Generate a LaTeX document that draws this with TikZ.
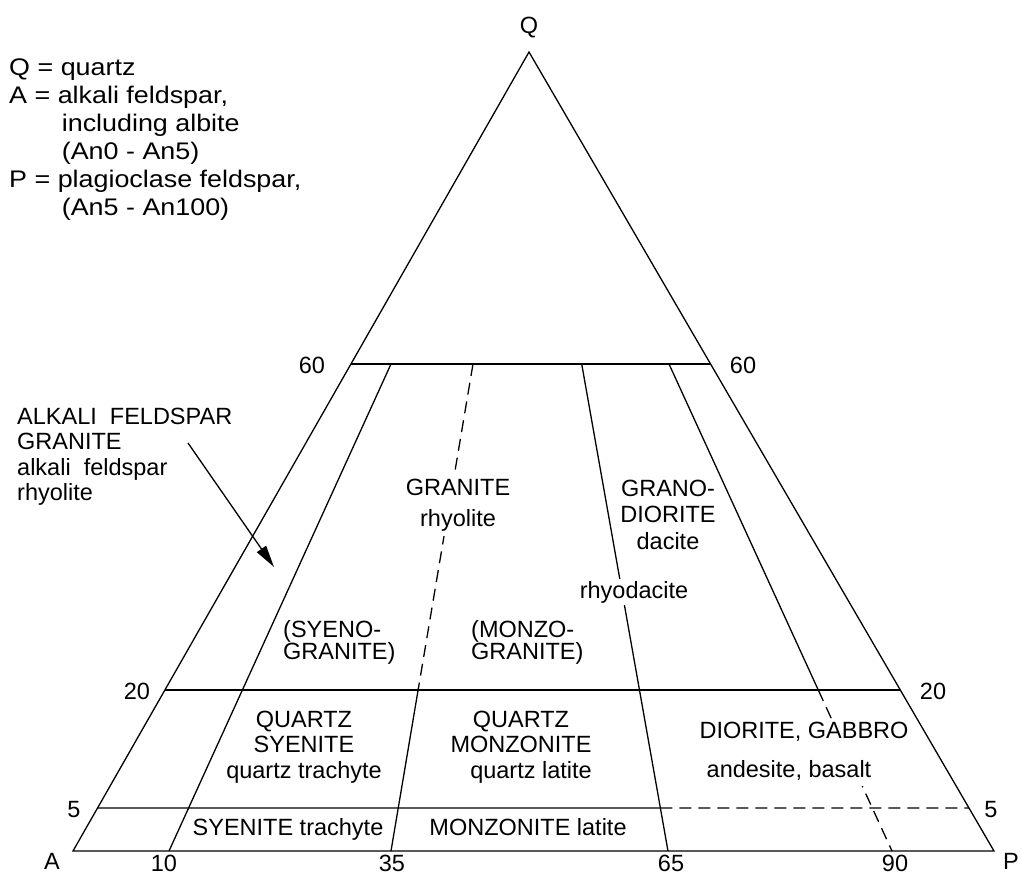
\documentclass[tikz,border=0pt]{standalone}
\usepackage{fontspec}
\setmainfont{Liberation Sans}
\usetikzlibrary{arrows.meta,calc}
\newcommand{\labfont}{\fontsize{23.5}{25.5}\selectfont}
\newcommand{\legfont}{\fontsize{24}{28}\selectfont}
\newcommand{\ctab}[1]{\begin{tabular}[t]{@{}c@{}}#1\end{tabular}}
\newcommand{\ltab}[1]{\begin{tabular}[t]{@{}l@{}}#1\end{tabular}}
\begin{document}
\begin{tikzpicture}[x=1pt,y=-1pt,
  lab/.style={font=\labfont, inner sep=0pt, anchor=base},
  leg/.style={font=\legfont, inner sep=0pt, anchor=base west},
  edge/.style={line width=1.3pt},
  dsh/.style={line width=1.3pt, dash pattern=on 12pt off 7pt},
  whitebg/.style={fill=white, inner sep=2pt}]
\useasboundingbox (0,0) rectangle (1021,876);
% vertices
\coordinate (Q) at (529,52);
\coordinate (A) at (73,851);
\coordinate (P) at (994,851);
\draw[edge, line join=miter] (A) -- (Q) -- (P) -- cycle;
% horizontal lines
\coordinate (L60) at ($(A)!0.6095!(Q)$);
\coordinate (R60) at ($(P)!0.6095!(Q)$);
\coordinate (L20) at ($(A)!0.2015!(Q)$);
\coordinate (R20) at ($(P)!0.2015!(Q)$);
\coordinate (L5) at ($(A)!0.0538!(Q)$);
\coordinate (R5) at ($(P)!0.0538!(Q)$);
\draw[edge] (L60) -- (R60);
\draw[edge] (L20) -- (R20);
% radial lines
\coordinate (T10) at (391,364);
\coordinate (B10) at (169,851);
\coordinate (T35) at (473,364);
\coordinate (B35) at (391,851);
\coordinate (M35) at ($(T35)!0.6694!(B35)$);
\coordinate (T65) at (581.7,364);
\coordinate (B65) at (668,851);
\coordinate (F65) at ($(T65)!0.9117!(B65)$);
\coordinate (T90) at (669,364);
\coordinate (B90) at (892,851);
\coordinate (M90) at ($(T90)!0.6694!(B90)$);
\draw[edge] (T10) -- (B10);
\draw[dsh] (T35) -- (M35);
\draw[edge] (M35) -- (B35);
\draw[edge] (T65) -- (B65);
\draw[edge] (T90) -- (M90);
\draw[dsh] (M90) -- (B90);
\draw[edge] (L5) -- (F65);
\draw[dsh] (F65) -- (R5);
% vertex labels
\node[lab] (Qlab) at (529,33) {Q};
\node[lab] (Alab) at (52,869) {A};
\node[lab, anchor=base west] (Plab) at (1003,869) {P};
% scale numbers
\node[lab] (n60l) at (312,373) {60};
\node[lab] (n60r) at (743,373) {60};
\node[lab] (n20l) at (137,699) {20};
\node[lab] (n20r) at (933,699) {20};
\node[lab] (n5l) at (74,817) {5};
\node[lab] (n5r) at (991,817) {5};
\node[lab] (b10) at (164,871) {10};
\node[lab] (b35) at (392,871) {35};
\node[lab] (b65) at (671,871) {65};
\node[lab] (b90) at (895,871) {90};
% legend
\node[leg, xscale=1.12, transform shape] (legend) at (9,75)
  {\ltab{Q = quartz\\A = alkali feldspar,\\\hspace*{47pt}including albite\\\hspace*{47pt}(An0 - An5)\\P = plagioclase feldspar,\\\hspace*{47pt}(An5 - An100)}};
% alkali feldspar granite label and arrow
\node[lab, anchor=base west] (afg) at (17,424)
  {\ltab{ALKALI\ \ FELDSPAR\\GRANITE\\alkali\ \ feldspar\\rhyolite}};
\coordinate (arrS) at (188,443);
\coordinate (arrE) at (274,567);
\draw[edge, -{Triangle[length=22pt,width=11pt]}] (arrS) -- (arrE);
% field labels
\node[lab, whitebg] (granite) at (458,495) {\ctab{GRANITE\\[5.5pt]rhyolite}};
\node[lab] (grano) at (668,496) {\ctab{GRANO-\\[1pt]DIORITE\\[1pt]dacite}};
\node[lab, whitebg] (rhyod) at (634,598) {rhyodacite};
\node[lab, anchor=base west] (syeno) at (283,637) {\ltab{(SYENO-\\[-3pt]GRANITE)}};
\node[lab, anchor=base west] (monzo) at (471,637) {\ltab{(MONZO-\\[-3pt]GRANITE)}};
\node[lab] (qsy) at (304,727) {\ctab{QUARTZ\\SYENITE\\quartz trachyte}};
\node[lab] (qmz) at (521,727) {\ctab{QUARTZ\\MONZONITE\\\hspace*{20pt}quartz latite}};
\node[lab, fill=white, inner sep=1pt] (dio) at (789,738) {\ctab{\hspace*{30pt}DIORITE, GABBRO\\[13.5pt]andesite, basalt}};
\node[lab] (sy) at (288,835) {SYENITE trachyte};
\node[lab] (mz) at (528,835) {MONZONITE latite};
\end{tikzpicture}
\end{document}
